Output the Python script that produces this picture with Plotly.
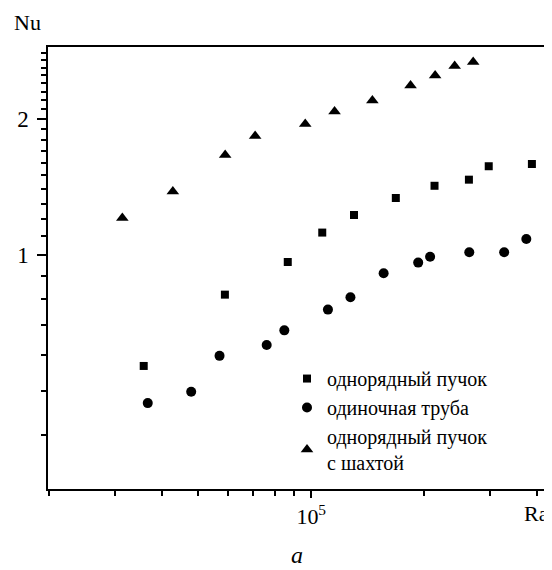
import plotly.graph_objects as go

# Data (Ra, Nu)
ra_bundle = [3.58e4, 5.89e4, 8.66e4, 1.07e5, 1.30e5, 1.68e5, 2.13e5, 2.63e5, 2.97e5, 3.87e5]
nu_bundle = [0.568, 0.817, 0.965, 1.121, 1.226, 1.337, 1.423, 1.468, 1.572, 1.590]

ra_single = [3.67e4, 4.79e4, 5.70e4, 7.61e4, 8.48e4, 1.108e5, 1.272e5, 1.559e5, 1.927e5, 2.073e5, 2.636e5, 3.265e5, 3.74e5]
nu_single = [0.470, 0.498, 0.598, 0.632, 0.681, 0.757, 0.806, 0.911, 0.962, 0.991, 1.014, 1.014, 1.085]

ra_shaft = [3.14e4, 4.28e4, 5.90e4, 7.09e4, 9.64e4, 1.154e5, 1.455e5, 1.839e5, 2.138e5, 2.41e5, 2.70e5]
nu_shaft = [1.207, 1.382, 1.664, 1.834, 1.950, 2.078, 2.198, 2.372, 2.496, 2.620, 2.675]

labels = ["однорядный пучок", "одиночная труба", "однорядный пучок<br>с шахтой"]

x_major = [1e5]
x_major_text = ["10<sup>5</sup>"]
x_minor = [2e4, 3e4, 4e4, 5e4, 6e4, 7e4, 8e4, 9e4, 2e5, 3e5, 4e5]
y_major = [1, 2]
y_major_text = ["1", "2"]
y_minor = [0.4, 0.5, 0.6, 0.7, 0.8, 0.9, 1.1, 1.2, 1.3, 1.4, 1.5, 1.6, 1.7, 1.8, 1.9,
           2.1, 2.2, 2.3, 2.4, 2.5, 2.6, 2.7, 2.8]

FONT = "Liberation Serif, Times New Roman, serif"

fig = go.Figure()
fig.add_trace(go.Scatter(x=ra_bundle, y=nu_bundle, mode="markers", name=labels[0],
                         marker=dict(symbol="square", size=8, color="black")))
fig.add_trace(go.Scatter(x=ra_single, y=nu_single, mode="markers", name=labels[1],
                         marker=dict(symbol="circle", size=10, color="black")))
fig.add_trace(go.Scatter(x=ra_shaft, y=nu_shaft, mode="markers", name=labels[2],
                         marker=dict(symbol="triangle-up", size=11, color="black")))

fig.update_layout(
    width=544, height=562,
    margin=dict(l=40, r=2, t=39, b=81),
    paper_bgcolor="white", plot_bgcolor="white",
    font=dict(family=FONT, size=21, color="black"),
    showlegend=True,
    legend=dict(x=0.478, y=0.294, xanchor="left", yanchor="top",
                bgcolor="rgba(0,0,0,0)", borderwidth=0,
                font=dict(family=FONT, size=20, color="black"),
                tracegroupgap=0, itemwidth=30),
    xaxis=dict(type="log", range=[4.299, 5.6306],
               showline=True, linecolor="black", linewidth=1.5, mirror=True,
               showgrid=False, zeroline=False,
               tickmode="array", tickvals=x_major, ticktext=x_major_text,
               ticks="outside", ticklen=7, tickwidth=1.5, tickcolor="black",
               tickfont=dict(family=FONT, size=22),
               minor=dict(tickmode="array", tickvals=x_minor, ticks="outside",
                          ticklen=5, tickwidth=1.5, tickcolor="black", showgrid=False)),
    yaxis=dict(type="log", range=[-0.518, 0.4604],
               showline=True, linecolor="black", linewidth=1.5, mirror=True,
               showgrid=False, zeroline=False,
               tickmode="array", tickvals=y_major, ticktext=y_major_text,
               ticks="outside", ticklen=9, tickwidth=1.5, tickcolor="black",
               ticklabelstandoff=4,
               tickfont=dict(family=FONT, size=23),
               minor=dict(tickmode="array", tickvals=y_minor, ticks="outside",
                          ticklen=5, tickwidth=1.5, tickcolor="black", showgrid=False)),
    annotations=[
        dict(text="Nu", xref="paper", yref="paper", x=-0.072, y=1.055,
             xanchor="left", yanchor="middle", showarrow=False,
             font=dict(family=FONT, size=22)),
        dict(text="Ra", xref="paper", yref="paper", x=1.005, y=-0.055,
             xanchor="right", yanchor="middle", showarrow=False,
             font=dict(family=FONT, size=22)),
        dict(text="<i>a</i>", xref="paper", yref="paper", x=0.497, y=-0.149,
             xanchor="center", yanchor="middle", showarrow=False,
             font=dict(family=FONT, size=24)),
    ],
)

fig.write_html("out.html")
